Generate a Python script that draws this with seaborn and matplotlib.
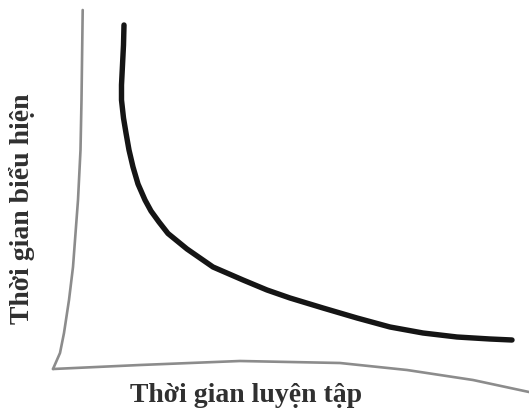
import numpy as np
import pandas as pd
import matplotlib
matplotlib.use("Agg")
import matplotlib.pyplot as plt
import seaborn as sns

# ==================== 数据 ====================
# 学习曲线（练习时间 -> 表现时间），单位为示意刻度
practice_time = [7.1, 7.05, 6.95, 6.85, 6.85, 7.05, 7.3, 7.6, 8.0, 8.5, 9.2, 9.8, 10.6, 11.5,
                 13.4, 16.0, 19.0, 21.4, 23.7, 27.0, 30.4, 33.7, 37.0, 40.4, 43.7, 45.9]
perform_time = [34.3, 32.3, 30.3, 28.3, 26.8, 25.0, 23.5, 21.8, 20.1, 18.4, 16.8, 15.7, 14.6, 13.45,
                11.9, 10.1, 8.8, 7.8, 7.0, 6.0, 5.0, 4.1, 3.5, 3.1, 2.9, 2.8]

# 手绘风格坐标轴
yaxis_x = [2.97, 2.85, 2.75, 2.5, 2.0, 1.6, 1.1, 0.7, 0.0]
yaxis_y = [35.8, 26.8, 21.8, 16.8, 10.1, 6.8, 3.5, 1.5, -0.1]
xaxis_x = [0.0, 8.7, 18.7, 28.7, 35.4, 42.0, 47.6]
xaxis_y = [-0.1, 0.3, 0.7, 0.5, -0.2, -1.2, -2.4]

x_label = "Thời gian luyện tập"
y_label = "Thời gian biểu hiện"

# ==================== 绘图 ====================
sns.set_theme(style="white")
plt.rcParams['font.family'] = ['Liberation Serif', 'DejaVu Serif']

fig = plt.figure(figsize=(5.29, 4.11), dpi=100)
ax = fig.add_axes([0, 0, 1, 1])

curve = pd.DataFrame({'x': practice_time, 'y': perform_time})
yax = pd.DataFrame({'x': yaxis_x, 'y': yaxis_y})
xax = pd.DataFrame({'x': xaxis_x, 'y': xaxis_y})

axis_style = dict(sort=False, estimator=None, color='#8c8c8c', linewidth=1.9,
                  solid_joinstyle='round', solid_capstyle='round', ax=ax)
sns.lineplot(data=yax, x='x', y='y', **axis_style)
sns.lineplot(data=xax, x='x', y='y', **axis_style)
sns.lineplot(data=curve, x='x', y='y', sort=False, estimator=None, color='#151515',
             linewidth=3.9, solid_capstyle='round', solid_joinstyle='round', ax=ax)

ax.set_xlim(-5.3, 47.6)
ax.set_ylim(-4.3, 36.8)
ax.axis('off')

ax.text(19.35, -3.4, x_label, fontsize=20, fontweight='bold', ha='center',
        va='baseline', color='#303030')
ax.text(-3.1, 15.95, y_label, fontsize=20, fontweight='bold', ha='center',
        va='center', rotation=90, color='#303030')

plt.savefig("out.png", dpi=100)
plt.close()
